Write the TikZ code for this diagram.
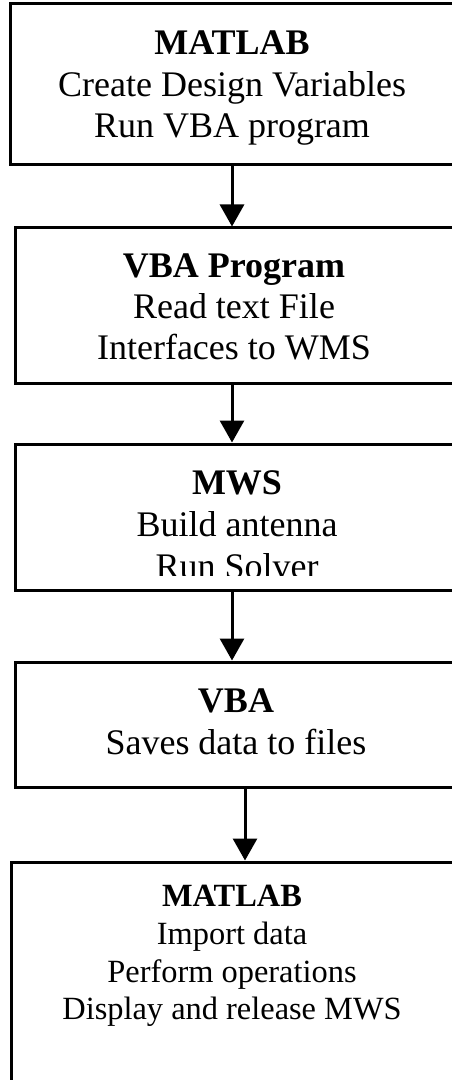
\documentclass[tikz,border=0pt]{standalone}
\usepackage{fontspec}
\setmainfont{Liberation Serif}
\usetikzlibrary{arrows.meta}
\begin{document}
\begin{tikzpicture}[x=0.5pt,y=-0.5pt,
>={Triangle[width=12pt,length=11pt]},
stage/.style={
% The shape:
rectangle,
draw=black,
line width=1.5pt,
minimum width=222pt,
inner sep=0pt
},
boxtext/.style={
align=center,
inner sep=0pt,
font=\fontsize{18}{20.75}\selectfont
},
flow/.style={->,line width=1.5pt}
]
\useasboundingbox (0,0) rectangle (451,1080);
% Boxes:
\node (matlabin) [stage,minimum height=80.5pt] at (232,84.5) {};
\node (vbaprog) [stage,minimum height=77.5pt] at (237,305.5) {};
\node (mws) [stage,minimum height=73pt] at (237,517) {};
\node (vba) [stage,minimum height=62.5pt] at (237,724.5) {};
\node (matlabout) [stage,minimum width=221pt,minimum height=119pt] at (232,981) {};
% Texts:
\node (matlabin-t) [boxtext] at (232,88.5) {\textbf{MATLAB}\\Create Design Variables\\Run VBA program};
\node (vbaprog-t) [boxtext,font=\fontsize{18}{20.5}\selectfont] at (234,307) {\textbf{VBA Program}\\Read text File\\Interfaces to WMS};
\begin{scope}
\clip (0,444) rectangle (451,575);
\node (mws-t) [boxtext,font=\fontsize{18}{21}\selectfont] at (237,525) {\textbf{MWS}\\Build antenna\\Run Solver};
\end{scope}
\node (vba-t) [boxtext,font=\fontsize{18}{21}\selectfont] at (236,722) {\textbf{VBA}\\Saves data to files};
\node (matlabout-t) [boxtext,font=\fontsize{16.2}{18.85}\selectfont] at (232,956) {\textbf{MATLAB}\\Import data\\Perform operations\\Display and release MWS};
% Arrows:
\draw [flow] (matlabin.south) -- (matlabin.south |- vbaprog.north);
\draw [flow] (vbaprog.south -| matlabin.south) -- (mws.north -| matlabin.south);
\draw [flow] (mws.south -| matlabin.south) -- (vba.north -| matlabin.south);
\draw [flow] ([xshift=4pt]vba.south) -- ([xshift=4pt]vba.south |- matlabout.north);
\end{tikzpicture}
\end{document}
